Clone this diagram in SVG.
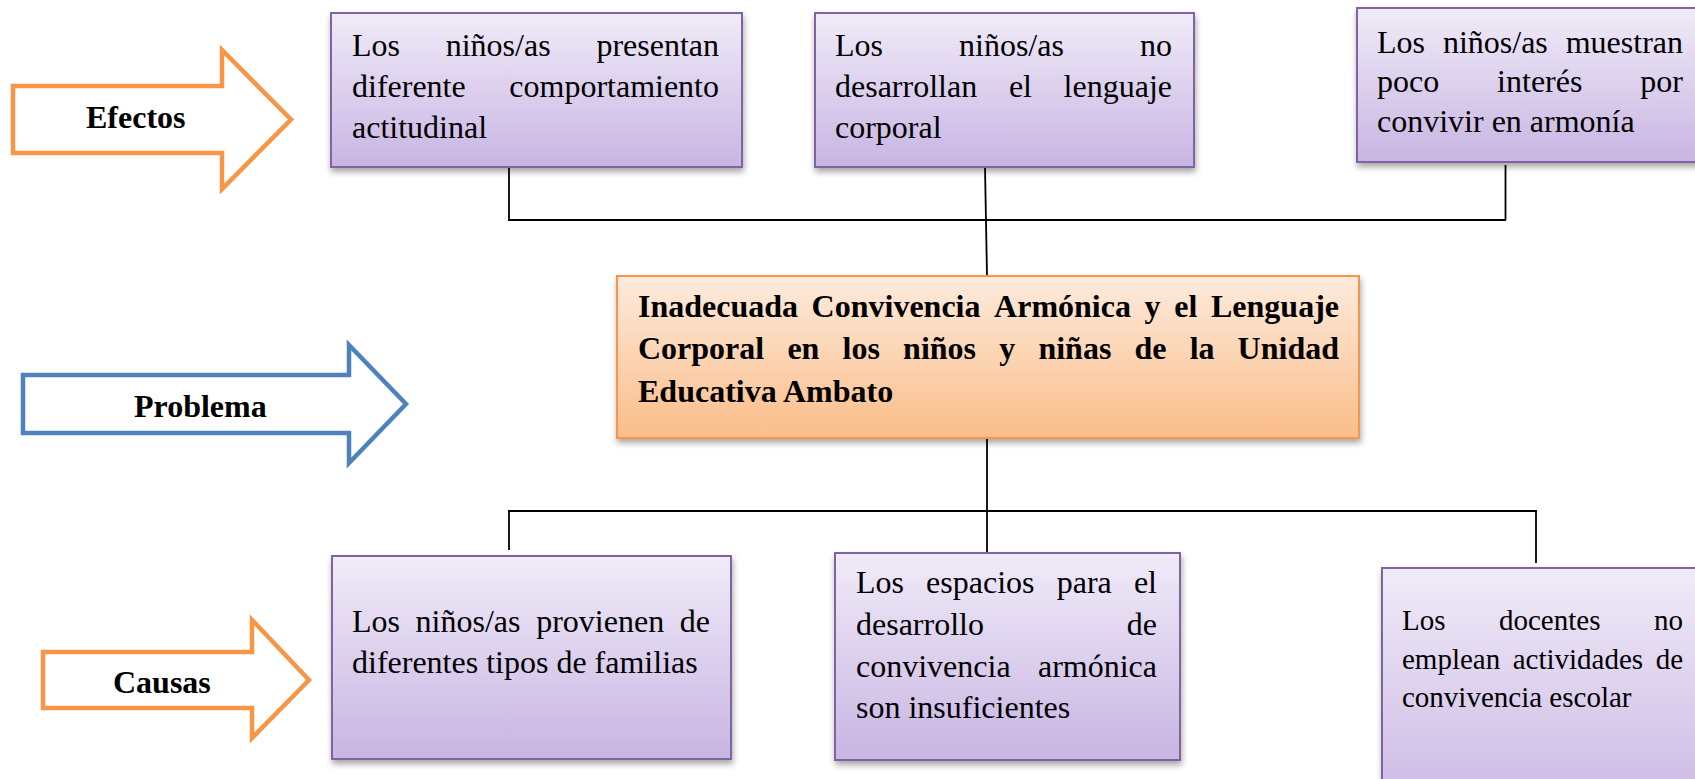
<svg xmlns="http://www.w3.org/2000/svg" width="1695" height="779" viewBox="0 0 1695 779">
<defs>
<linearGradient id="gPurple" x1="0" y1="0" x2="0" y2="1">
<stop offset="0" stop-color="#F0EBF8"/>
<stop offset="1" stop-color="#C8B5E3"/>
</linearGradient>
<linearGradient id="gOrange" x1="0" y1="0" x2="0" y2="1">
<stop offset="0" stop-color="#FDEBDD"/>
<stop offset="1" stop-color="#FBBD89"/>
</linearGradient>
<filter id="shadow" x="-10%" y="-10%" width="120%" height="130%">
<feDropShadow dx="1" dy="4" stdDeviation="3" flood-color="#000" flood-opacity="0.35"/>
</filter>
</defs>
<style>
.box{fill:url(#gPurple);stroke:#8064A2;stroke-width:2;filter:url(#shadow)}
.pbox{fill:url(#gOrange);stroke:#F79646;stroke-width:2;filter:url(#shadow)}
.arrO{fill:#fff;stroke:#F79646;stroke-width:4.5;stroke-linejoin:miter}
.arrB{fill:#fff;stroke:#4F81BD;stroke-width:4.5;stroke-linejoin:miter}
text{font-family:"Liberation Serif","Times New Roman",serif;fill:#000}
.t{font-size:32px}
.t6{font-size:29px}
.b{font-size:32px;font-weight:bold}
.e{text-anchor:end}
.conn line{stroke:#000;stroke-width:1.8}
</style>

<g id="arrow-efectos">
<polygon class="arrO" points="13,86 222,86 222,50 291,119.5 222,189 222,153 13,153"/>
<text class="b" x="86" y="128">Efectos</text>
</g>
<g id="arrow-problema">
<polygon class="arrB" points="23,375 349,375 349,345 406,404 349,463 349,433 23,433"/>
<text class="b" x="134" y="417">Problema</text>
</g>
<g id="arrow-causas">
<polygon class="arrO" points="43,652 252,652 252,620 309,680 252,738 252,708 43,708"/>
<text class="b" x="113" y="693">Causas</text>
</g>

<g class="conn" id="connectors">
<line x1="509" y1="167" x2="509" y2="220"/>
<line x1="985" y1="167" x2="987" y2="276"/>
<line x1="1505.5" y1="165" x2="1505.5" y2="220"/>
<line x1="508" y1="220" x2="1506" y2="220"/>
<line x1="987" y1="438" x2="987" y2="553"/>
<line x1="508" y1="511" x2="1537" y2="511"/>
<line x1="509" y1="510" x2="509" y2="550"/>
<line x1="1536" y1="510" x2="1536" y2="563"/>
</g>

<g id="effect-1">
<rect class="box" x="331" y="13" width="411" height="154"/>
<text class="t" x="352" y="56">Los</text>
<text class="t" x="445.7" y="56">niños/as</text>
<text class="t e" x="719" y="56">presentan</text>
<text class="t" x="352" y="97">diferente</text>
<text class="t e" x="719" y="97">comportamiento</text>
<text class="t" x="352" y="138">actitudinal</text>
</g>

<g id="effect-2">
<rect class="box" x="815" y="13" width="379" height="154"/>
<text class="t" x="835" y="56">Los</text>
<text class="t" x="959" y="56">niños/as</text>
<text class="t e" x="1172" y="56">no</text>
<text class="t" x="835" y="97">desarrollan</text>
<text class="t" x="1008.9" y="97">el</text>
<text class="t e" x="1172" y="97">lenguaje</text>
<text class="t" x="835" y="138">corporal</text>
</g>

<g id="effect-3">
<rect class="box" x="1357" y="8" width="360" height="154"/>
<text class="t" x="1377" y="53">Los</text>
<text class="t" x="1442.9" y="53">niños/as</text>
<text class="t e" x="1683" y="53">muestran</text>
<text class="t" x="1377" y="92">poco</text>
<text class="t" x="1497.1" y="92">interés</text>
<text class="t e" x="1683" y="92">por</text>
<text class="t" x="1377" y="132">convivir en armonía</text>
</g>

<g id="problem">
<rect class="pbox" x="617" y="276" width="742" height="162"/>
<text class="b" x="638" y="317">Inadecuada</text>
<text class="b" x="811.6" y="317">Convivencia</text>
<text class="b" x="994.1" y="317">Armónica</text>
<text class="b" x="1144.6" y="317">y</text>
<text class="b" x="1174.2" y="317">el</text>
<text class="b e" x="1339" y="317">Lenguaje</text>
<text class="b" x="638" y="359">Corporal</text>
<text class="b" x="787.4" y="359">en</text>
<text class="b" x="842.6" y="359">los</text>
<text class="b" x="903.1" y="359">niños</text>
<text class="b" x="999.2" y="359">y</text>
<text class="b" x="1038.4" y="359">niñas</text>
<text class="b" x="1134.5" y="359">de</text>
<text class="b" x="1189.7" y="359">la</text>
<text class="b e" x="1339" y="359">Unidad</text>
<text class="b" x="638" y="402">Educativa Ambato</text>
</g>

<g id="cause-1">
<rect class="box" x="332" y="556" width="399" height="203"/>
<text class="t" x="352" y="632">Los</text>
<text class="t" x="415.6" y="632">niños/as</text>
<text class="t" x="536.2" y="632">provienen</text>
<text class="t e" x="710" y="632">de</text>
<text class="t" x="352" y="673">diferentes tipos de familias</text>
</g>

<g id="cause-2">
<rect class="box" x="835" y="553" width="345" height="207"/>
<text class="t" x="856" y="593">Los</text>
<text class="t" x="926.1" y="593">espacios</text>
<text class="t" x="1056.7" y="593">para</text>
<text class="t e" x="1157" y="593">el</text>
<text class="t" x="856" y="635">desarrollo</text>
<text class="t e" x="1157" y="635">de</text>
<text class="t" x="856" y="677">convivencia</text>
<text class="t e" x="1157" y="677">armónica</text>
<text class="t" x="856" y="718">son insuficientes</text>
</g>

<g id="cause-3">
<rect class="box" x="1382" y="568" width="340" height="260"/>
<text class="t6" x="1402" y="630">Los</text>
<text class="t6" x="1499" y="630">docentes</text>
<text class="t6 e" x="1683" y="630">no</text>
<text class="t6" x="1402" y="668.5">emplean</text>
<text class="t6" x="1512.7" y="668.5">actividades</text>
<text class="t6 e" x="1683" y="668.5">de</text>
<text class="t6" x="1402" y="707">convivencia escolar</text>
</g>
</svg>
